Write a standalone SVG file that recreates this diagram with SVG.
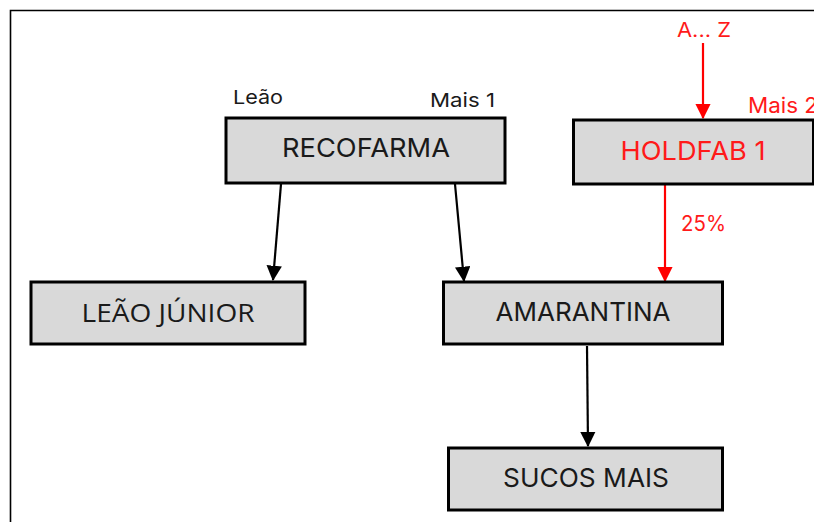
<svg xmlns="http://www.w3.org/2000/svg" width="814" height="522" viewBox="0 0 814 522">
<defs>
<style>
.box{fill:#D9D9D9;stroke:#000;stroke-width:3}
.bt{font-family:Inter,"Liberation Sans",sans-serif;font-size:26px;fill:#1a1a1a;text-anchor:middle}
.lb{font-family:Inter,"Liberation Sans",sans-serif;font-size:19px;fill:#1a1a1a}
.red{fill:#FF1A1A}
.k{stroke:#000;stroke-width:2.2;fill:none}
.r{stroke:#FF0000;stroke-width:2.2;fill:none}
</style>
<marker id="ak" markerWidth="7" markerHeight="7" refX="6.5" refY="3.5" orient="auto" markerUnits="strokeWidth"><path d="M0,0 L7,3.5 L0,7 Z" fill="#000"/></marker>
<marker id="ar" markerWidth="7" markerHeight="7" refX="6.5" refY="3.5" orient="auto" markerUnits="strokeWidth"><path d="M0,0 L7,3.5 L0,7 Z" fill="#FF0000"/></marker>
</defs>
<rect width="814" height="522" fill="#fff"/>
<path d="M10.5,522 V10.5 H814" fill="none" stroke="#000" stroke-width="1.6"/>
<g id="connectors">
<line class="k" x1="281" y1="184" x2="273" y2="280" marker-end="url(#ak)"/>
<line class="k" x1="455" y1="184" x2="464" y2="281" marker-end="url(#ak)"/>
<line class="r" x1="665" y1="185" x2="665" y2="281" marker-end="url(#ar)"/>
<line class="r" x1="703" y1="43" x2="703" y2="118" marker-end="url(#ar)"/>
<line class="k" x1="587" y1="346" x2="588" y2="446" marker-end="url(#ak)"/>
</g>
<g id="recofarma">
<rect class="box" x="226" y="118" width="279" height="65"/>
<text class="bt" x="366" y="157" textLength="168" lengthAdjust="spacingAndGlyphs">RECOFARMA</text>
</g>
<g id="holdfab1">
<rect class="box" x="573.5" y="120" width="240" height="64"/>
<text class="bt red" x="693" y="160" textLength="145" lengthAdjust="spacingAndGlyphs">HOLDFAB 1</text>
</g>
<g id="leaojunior">
<rect class="box" x="31" y="282" width="274" height="62"/>
<text class="bt" x="168" y="322" style="font-family:'Open Sans','Liberation Sans',sans-serif" textLength="173" lengthAdjust="spacingAndGlyphs">LEÃO JÚNIOR</text>
</g>
<g id="amarantina">
<rect class="box" x="443.5" y="282" width="279" height="62"/>
<text class="bt" x="583" y="321" textLength="175" lengthAdjust="spacingAndGlyphs">AMARANTINA</text>
</g>
<g id="sucosmais">
<rect class="box" x="448.5" y="448" width="274" height="62"/>
<text class="bt" x="586" y="487" textLength="166" lengthAdjust="spacingAndGlyphs">SUCOS MAIS</text>
</g>
<g id="labels">
<text class="lb" x="233" y="104" textLength="50" lengthAdjust="spacingAndGlyphs">Leão</text>
<text class="lb" x="430" y="107" textLength="65" lengthAdjust="spacingAndGlyphs">Mais 1</text>
<text class="lb red" x="748" y="113" style="font-size:21px" textLength="70" lengthAdjust="spacingAndGlyphs">Mais 2</text>
<text class="lb red" x="677" y="37" style="font-size:20px" textLength="54" lengthAdjust="spacingAndGlyphs">A... Z</text>
<text class="lb red" x="681" y="231" style="font-size:21px" textLength="45" lengthAdjust="spacingAndGlyphs">25%</text>
</g>
</svg>
